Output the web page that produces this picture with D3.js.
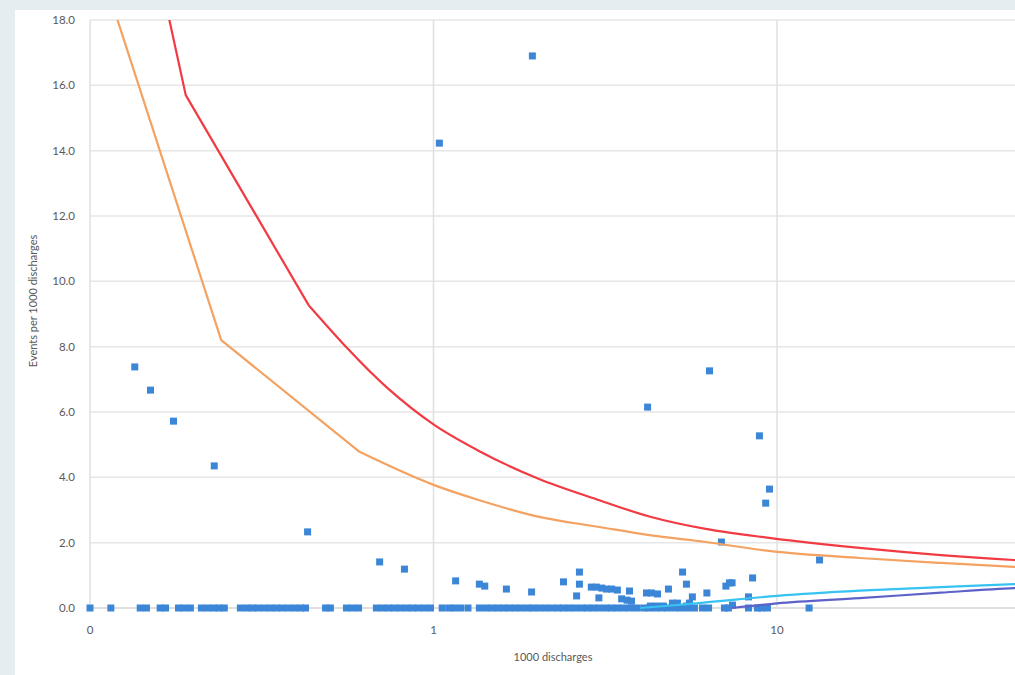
<!DOCTYPE html>
<html>
<head>
<meta charset="utf-8">
<script src="https://cdn.jsdelivr.net/npm/d3@7"></script>
<style>
  body { margin: 0; background: #e4eef0; }
  text { font-family: Lato, "Open Sans", sans-serif; fill: #595959; }
</style>
</head>
<body>
<svg id="chart" width="1015" height="675"></svg>
<script>
// thousands of discharges for units with no events
var zeroN = [0.100, 0.115, 0.140, 0.146, 0.160, 0.166, 0.181, 0.188, 0.196, 0.211, 0.220, 0.229,
  0.238, 0.246, 0.274, 0.286, 0.297, 0.309, 0.322, 0.335, 0.349, 0.363, 0.378, 0.394, 0.410,
  0.424, 0.485, 0.501, 0.558, 0.581, 0.605, 0.682, 0.710, 0.740, 0.770, 0.801, 0.834, 0.869,
  0.904, 0.942, 0.980, 1.06, 1.11, 1.15, 1.20, 1.26, 1.36, 1.42, 1.48, 1.54, 1.60, 1.66, 1.73,
  1.80, 1.88, 1.95, 2.03, 2.12, 2.21, 2.30, 2.39, 2.49, 2.59, 2.70, 2.81, 2.92, 3.04, 3.17,
  3.30, 3.43, 3.57, 3.72, 3.90, 4.09, 4.25, 4.43, 4.61, 4.80, 5.03, 5.24, 5.49, 5.75, 6.07,
  6.32, 7.03, 7.22, 8.26, 8.77, 9.01, 9.38, 12.4];

// units with events: discharges (thousands) and events per 1000 discharges
var unitN    = [0.135, 0.150, 0.175, 0.230, 0.430, 0.697, 0.823, 1.04, 1.94, 1.16, 1.36, 1.41,
  1.63, 1.93, 2.39, 2.66, 2.66, 2.61, 2.88, 2.98, 3.09, 3.19, 3.30, 3.43, 3.03, 3.72, 3.53,
  3.66, 3.77, 4.17, 4.31, 4.49, 4.83, 5.31, 5.45, 5.67, 4.20, 6.36, 6.25, 6.89, 7.10, 7.27,
  7.40, 8.49, 8.26, 7.42, 8.89, 9.27, 9.51, 13.3, 4.96, 5.13, 5.45, 4.28, 4.46, 4.67, 5.56];
var unitRate = [7.38, 6.67, 5.72, 4.35, 2.33, 1.41, 1.19, 14.23, 16.9, 0.83, 0.73, 0.67,
  0.58, 0.49, 0.80, 1.10, 0.73, 0.37, 0.64, 0.64, 0.61, 0.58, 0.58, 0.55, 0.31, 0.52, 0.28,
  0.24, 0.21, 0.46, 0.46, 0.43, 0.58, 1.10, 0.73, 0.34, 6.15, 7.26, 0.46, 2.02, 0.67, 0.77,
  0.77, 0.92, 0.34, 0.09, 5.27, 3.21, 3.64, 1.47, 0.15, 0.15, 0.06, 0.06, 0.06, 0.06, 0.15];

// control limits (straight segments up to the last kink, smooth after it)
var upper998N = [0.16, 0.19, 0.433, 0.735, 1.0, 1.36, 2.03, 3.04, 4.25, 6.2, 9.6, 17.4, 30, 49, 60];
var upper998  = [19.3, 15.7, 9.27, 6.73, 5.62, 4.8, 3.95, 3.3, 2.8, 2.42, 2.14, 1.84, 1.62, 1.47, 1.42];
var upper95N  = [0.1, 0.241, 0.609, 1.0, 1.36, 2.03, 3.04, 4.25, 6.2, 9.6, 17.4, 30, 49, 60];
var upper95   = [20.6, 8.2, 4.78, 3.77, 3.3, 2.79, 2.48, 2.23, 2.02, 1.74, 1.53, 1.38, 1.26, 1.22];
var lower95N  = [4.0, 5.95, 10, 17.4, 30, 49, 60];
var lower95   = [0.0, 0.15, 0.37, 0.53, 0.64, 0.73, 0.76];
var lower998N = [7.4, 10, 17.4, 30, 49, 60];
var lower998  = [0.0, 0.14, 0.30, 0.47, 0.61, 0.64];

var xTicks = [0.1, 1, 10, 100];
var yTicks = d3.range(0, 18.01, 2);

var svg = d3.select("#chart");

svg.append("rect")
  .attr("x", 15).attr("y", 10)
  .attr("width", 1000).attr("height", 665)
  .style("fill", "#fff");

var x = d3.scaleLog().domain([0.1, 100]).range([90, 1120.5]);
var y = d3.scaleLinear().domain([0, 18]).range([608, 20]);

svg.append("clipPath").attr("id", "plot-clip")
  .append("rect").attr("x", 90).attr("y", 20).attr("width", 1040).attr("height", 590);

// gridlines
svg.append("g").selectAll("line")
  .data(yTicks)
  .enter().append("line")
  .attr("x1", 90).attr("x2", 1120)
  .attr("y1", function(d) { return y(d); })
  .attr("y2", function(d) { return y(d); })
  .style("stroke", function(d) { return d === 0 ? "#d4d4d4" : "#e6e6e6"; })
  .style("stroke-width", 1.5);

svg.append("g").selectAll("line")
  .data(xTicks)
  .enter().append("line")
  .attr("x1", function(d) { return x(d); })
  .attr("x2", function(d) { return x(d); })
  .attr("y1", 20).attr("y2", 608)
  .style("stroke", "#e0e0e0")
  .style("stroke-width", 1.5);

// axis labels
svg.append("g").selectAll("text")
  .data(yTicks)
  .enter().append("text")
  .attr("x", 75)
  .attr("y", function(d) { return y(d); })
  .attr("dy", "0.35em")
  .attr("text-anchor", "end")
  .style("font-size", "11.5px")
  .text(d3.format(".1f"));

// only the labels that fall inside the picture
svg.append("g").selectAll("text")
  .data(xTicks.filter(function(d) { return x(d) < 1000; }))
  .enter().append("text")
  .attr("x", function(d) { return x(d); })
  .attr("y", 634)
  .attr("text-anchor", "middle")
  .style("font-size", "11.5px")
  .text(d3.format(".0f"));

svg.append("text")
  .attr("x", 553).attr("y", 661)
  .attr("text-anchor", "middle")
  .style("font-size", "11px")
  .text("1000 discharges");

svg.append("text")
  .attr("transform", "translate(37,301) rotate(-90)")
  .attr("text-anchor", "middle")
  .style("font-size", "11px")
  .text("Events per 1000 discharges");

// points
var pts = zeroN.map(function(n) { return { n: n, r: 0 }; })
  .concat(unitN.map(function(n, i) { return { n: n, r: unitRate[i] }; }));

svg.append("g").selectAll("rect")
  .data(pts)
  .enter().append("rect")
  .attr("x", function(d) { return x(d.n) - 3.5; })
  .attr("y", function(d) { return y(d.r) - 3.5; })
  .attr("width", 7).attr("height", 7)
  .style("fill", "#3b86d6");

// limit lines
var straight = d3.line()
  .x(function(d) { return x(d[0]); })
  .y(function(d) { return y(d[1]); });
var smooth = d3.line()
  .x(function(d) { return x(d[0]); })
  .y(function(d) { return y(d[1]); })
  .curve(d3.curveMonotoneX);

var limits = [
  { n: upper998N, v: upper998, kink: 2, color: "#f23a42" },
  { n: upper95N, v: upper95, kink: 2, color: "#f4a261" },
  { n: lower95N, v: lower95, kink: 0, color: "#36c3f2" },
  { n: lower998N, v: lower998, kink: 0, color: "#5c62c8" }
];

var lg = svg.append("g").attr("clip-path", "url(#plot-clip)");
limits.forEach(function(s) {
  var pts = d3.zip(s.n, s.v);
  var d = "";
  if (s.kink > 0) d += straight(pts.slice(0, s.kink + 1));
  d += smooth(pts.slice(s.kink));
  lg.append("path")
    .attr("d", d)
    .style("fill", "none")
    .style("stroke", s.color)
    .style("stroke-width", 2.2)
    .style("stroke-linejoin", "round");
});
</script>
</body>
</html>
